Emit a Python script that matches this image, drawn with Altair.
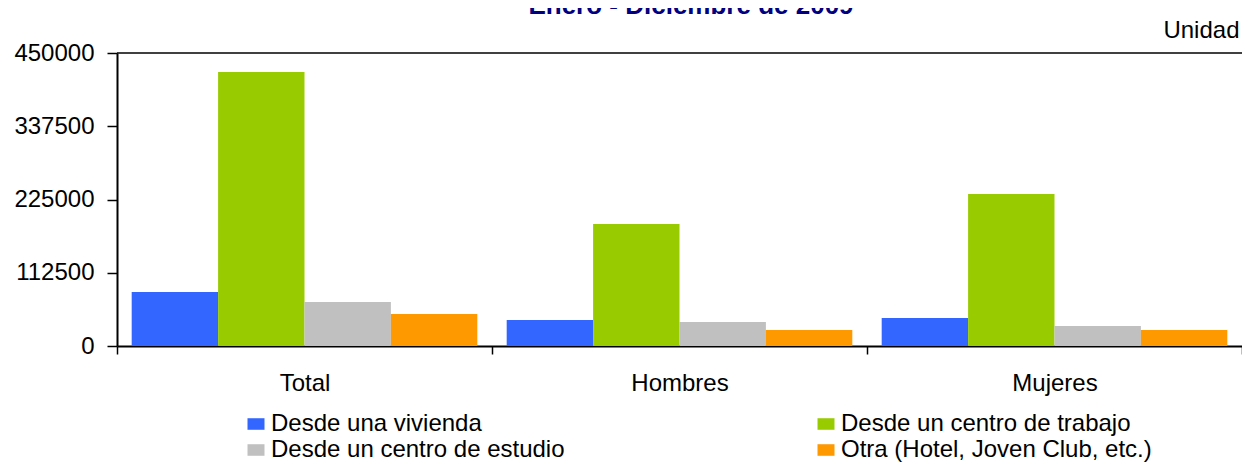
import altair as alt
import pandas as pd

categories = ["Total", "Hombres", "Mujeres"]
series = [
    "Desde una vivienda",
    "Desde un centro de trabajo",
    "Desde un centro de estudio",
    "Otra (Hotel, Joven Club, etc.)",
]
vivienda = [82900, 39900, 43000]
trabajo = [420800, 187400, 233400]
estudio = [67600, 36900, 30700]
otra = [49200, 24600, 24600]
colors = ["#3366FF", "#99CC00", "#C0C0C0", "#FF9900"]
y_ticks = [0, 112500, 225000, 337500, 450000]
title_text = ["Enero - Diciembre de 2009"]
unit_text = "Unidad"

rows = []
for s, vals in zip(series, [vivienda, trabajo, estudio, otra]):
    for c, v in zip(categories, vals):
        rows.append({"cat": c, "serie": s, "valor": v})
df = pd.DataFrame(rows)

FONT = "Liberation Sans"

bars = alt.Chart(df).mark_bar().encode(
    x=alt.X(
        "cat:N",
        sort=categories,
        scale=alt.Scale(paddingInner=0, paddingOuter=0),
        axis=alt.Axis(title=None, labelAngle=0, tickBand="extent", tickSize=8,
                      labelPadding=17),
    ),
    xOffset=alt.XOffset("serie:N", sort=series,
                        scale=alt.Scale(paddingInner=0, paddingOuter=0.17)),
    y=alt.Y(
        "valor:Q",
        scale=alt.Scale(domain=[0, 450000], nice=False, zero=True),
        axis=alt.Axis(values=y_ticks, format="d", title=unit_text, titleAngle=0,
                      titleX=1122, titleY=-16, titleAlign="right",
                      titleBaseline="alphabetic", titleFont=FONT, titleFontSize=24,
                      titleFontWeight="normal", titleColor="black",
                      tickSize=10, labelPadding=13),
    ),
    color=alt.Color(
        "serie:N",
        sort=series,
        scale=alt.Scale(domain=series, range=colors),
        legend=alt.Legend(
            title=None, orient="none", legendX=127, legendY=359, columns=2,
            direction="horizontal",
            columnPadding=249, rowPadding=2, padding=0,
            symbolType="M-1,-0.68H1V0.68H-1Z", symbolSize=289,
            symbolStrokeWidth=0, symbolOffset=0,
            labelFont=FONT, labelFontSize=24, labelColor="black",
            labelLimit=700, labelOffset=3,
        ),
    ),
)

top_line = alt.Chart(pd.DataFrame({"v": [y_ticks[-1]]})).mark_rule(
    color="black", strokeWidth=1.5
).encode(y="v:Q")

title = alt.Chart(pd.DataFrame({"t": title_text})).mark_text(
    font=FONT, fontSize=26, fontWeight="bold", color="#000080",
    baseline="alphabetic", align="center",
).encode(x=alt.value(574), y=alt.value(-39), text="t:N")

chart = alt.layer(bars, top_line, title).properties(
    width=1125,
    height=293,
    autosize=alt.AutoSizeParams(type="none"),
    padding={"left": 109, "top": 45, "right": 0, "bottom": 116},
).configure_view(stroke=None).configure_axis(
    grid=False,
    domainColor="black",
    domainWidth=2,
    tickColor="black",
    tickWidth=1.5,
    labelFont=FONT,
    labelFontSize=24,
    labelColor="black",
)

chart.save("out.html", embed_options={"renderer": "svg", "actions": False})
